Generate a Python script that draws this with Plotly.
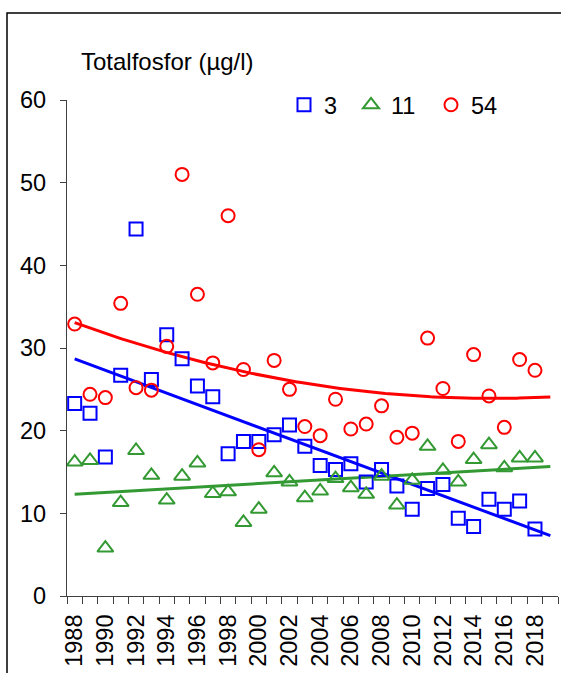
import numpy as np
import plotly.graph_objects as go

years = list(range(1988, 2019))
trend_years = list(range(1988, 2020))

site_3 = [23.3, 22.1, 16.8, 26.7, 44.4, 26.2, 31.6, 28.7, 25.4, 24.1,
          17.2, 18.7, 18.7, 19.5, 20.7, 18.1, 15.8, 15.3, 16.0, 13.8,
          15.3, 13.3, 10.5, 13.0, 13.5, 9.4, 8.4, 11.7, 10.5, 11.5, 8.1]
site_11 = [16.2, 16.4, 5.8, 11.3, 17.6, 14.6, 11.6, 14.5, 16.1, 12.4,
           12.6, 8.9, 10.5, 14.9, 13.8, 11.9, 12.7, 14.2, 13.1, 12.3,
           14.5, 11.0, 14.0, 18.1, 15.2, 13.8, 16.5, 18.3, 15.5, 16.7, 16.7]
site_54 = [32.9, 24.4, 24.0, 35.4, 25.2, 24.9, 30.2, 51.0, 36.5, 28.2,
           46.0, 27.4, 17.7, 28.5, 25.0, 20.5, 19.4, 23.8, 20.2, 20.8,
           23.0, 19.2, 19.7, 31.2, 25.1, 18.7, 29.2, 24.2, 20.4, 28.6, 27.3]

series_names = ["3", "11", "54"]
y_ticks = [0, 10, 20, 30, 40, 50, 60]
x_labels = list(range(1988, 2019, 2))

BLUE = "#0000FF"
GREEN = "#339933"
RED = "#FF0000"
FONT = "Arial, 'Liberation Sans', sans-serif"
FS = 23.5

W, H = 561, 673
L, R, T, B = 67, 3, 100, 77
pw, ph = W - L - R, H - T - B

fig = go.Figure()

x_arr = np.array(years, dtype=float)
x_fine = np.linspace(trend_years[0], trend_years[-1], 200)

def trend(vals, deg):
    c = np.polyfit(x_arr - 2000, np.array(vals), deg)
    return np.polyval(c, x_fine - 2000)

specs = [
    (site_3, series_names[0], BLUE, "square-open", 1, "legend", 13),
    (site_11, series_names[1], GREEN, "triangle-up-open", 1, "legend2", 14),
    (site_54, series_names[2], RED, "circle-open", 2, "legend3", 13),
]

for vals, name, col, sym, deg, leg, sz in specs:
    fig.add_trace(go.Scatter(
        x=x_fine, y=trend(vals, deg), mode="lines",
        line=dict(color=col, width=3), showlegend=False, hoverinfo="skip"))

for vals, name, col, sym, deg, leg, sz in specs:
    fig.add_trace(go.Scatter(
        x=years, y=vals, mode="markers", name=name, legend=leg,
        marker=dict(symbol=sym, size=sz, color=col,
                    line=dict(color=col, width=2))))

def leg_at(px):
    return dict(orientation="h", x=(px - L) / pw, y=1 + (T - 105) / ph,
                xanchor="left", yanchor="middle",
                font=dict(size=FS, family=FONT, color="black"), itemwidth=30,
                bgcolor="rgba(0,0,0,0)")

fig.update_layout(
    width=W, height=H,
    margin=dict(l=L, r=R, t=T, b=B, pad=0),
    paper_bgcolor="white", plot_bgcolor="white",
    font=dict(family=FONT, size=FS, color="black"),
    showlegend=True,
    legend=leg_at(284),
    legend2=leg_at(351),
    legend3=leg_at(431),
    xaxis=dict(range=[trend_years[0] - 0.5, trend_years[-1] + 0.5],
               tickvals=x_labels, ticktext=[str(v) for v in x_labels],
               ticks="", tickangle=-90, showgrid=False, zeroline=False,
               showline=True, linecolor="#404040", linewidth=1.3,
               ticklabelstandoff=8,
               tickfont=dict(size=FS, family=FONT, color="black"),
               minor=dict(tickvals=[y - 0.5 for y in trend_years] + [trend_years[-1] + 0.5],
                          ticks="outside", ticklen=7, tickcolor="#404040",
                          tickwidth=1.3, showgrid=False)),
    yaxis=dict(range=[0, 60], tickvals=y_ticks, ticks="outside", ticklen=6,
               tickcolor="#404040", tickwidth=1.3, showgrid=False, zeroline=False,
               showline=True, linecolor="#404040", linewidth=1.3,
               ticklabelstandoff=9,
               tickfont=dict(size=FS, family=FONT, color="black")),
    annotations=[dict(text="Totalfosfor (µg/l)", xref="paper", yref="paper",
                      x=(79 - L) / pw, y=1 + (T - 62) / ph, xanchor="left",
                      yanchor="middle", showarrow=False,
                      font=dict(size=24, family=FONT, color="black"))],
    shapes=[dict(type="rect", xref="paper", yref="paper",
                 x0=(7 - L) / pw, x1=1.2, y0=-0.5, y1=1 + (T - 13) / ph,
                 line=dict(color="black", width=1.5), layer="above")],
)

fig.write_html("out.html")
